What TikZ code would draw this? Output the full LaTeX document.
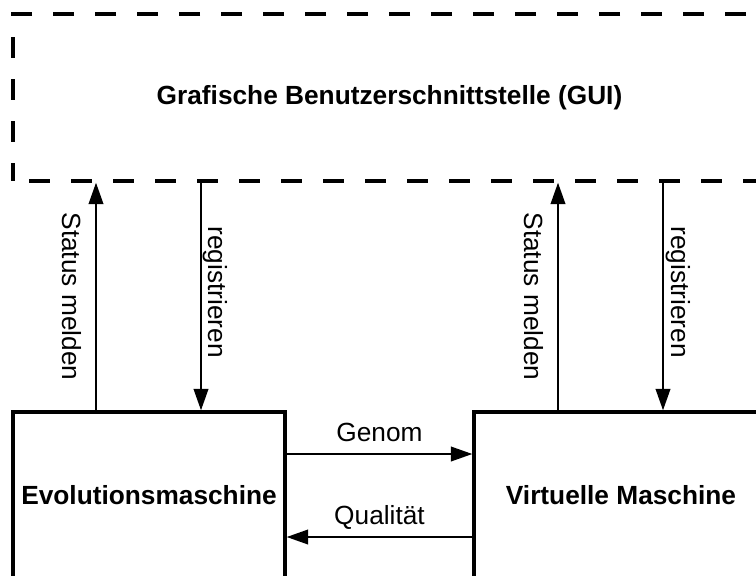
\documentclass[tikz,border=0pt]{standalone}
\usepackage{fontspec}
\setmainfont{Liberation Sans}
\usepackage{tikz}
\usetikzlibrary{arrows.meta,calc}

\begin{document}
\begin{tikzpicture}[x=0.75pt,y=-0.75pt,
    box/.style={draw,line width=2.6pt,inner sep=0pt,font=\bfseries\fontsize{19.7}{23.6}\selectfont},
    guibox/.style={box,dash pattern=on 15.75pt off 15.75pt,dash phase=19.5pt},
    pfeil/.style={line width=1.2pt,-{Triangle[length=16pt,width=11pt]}},
    lbl/.style={font=\fontsize{19.7}{23.6}\selectfont,text depth=0pt}]
    \useasboundingbox (0,0) rectangle (756,575);
    \clip (0,0) rectangle (756,575);
    \node[guibox,minimum width=564.75pt,minimum height=125.25pt] (gui) at (389.5,97.5) {Grafische Benutzerschnittstelle (GUI)};
    \node[box,minimum width=204pt,minimum height=124.5pt] (evo) at (149,495) {Evolutionsmaschine};
    \node[box,minimum width=220.5pt,minimum height=124.5pt] (vm) at (621,495) {Virtuelle Maschine};
    % Spalten der senkrechten Pfeile
    \coordinate (s1) at (96,300);
    \coordinate (r1) at (201,300);
    \coordinate (s2) at (558,300);
    \coordinate (r2) at (663,300);
    \coordinate (g) at (380,454);
    \coordinate (q) at (380,537);
    \draw[pfeil] (s1 |- evo.north) -- (s1 |- gui.south) node[lbl,midway,anchor=north,rotate=-90,inner sep=10pt] {Status melden};
    \draw[pfeil] (r1 |- gui.south) -- (r1 |- evo.north) node[lbl,pos=0.48,anchor=south,rotate=-90,inner sep=5pt] {registrieren};
    \draw[pfeil] (s2 |- vm.north) -- (s2 |- gui.south) node[lbl,midway,anchor=north,rotate=-90,inner sep=10pt] {Status melden};
    \draw[pfeil] (r2 |- gui.south) -- (r2 |- vm.north) node[lbl,pos=0.48,anchor=south,rotate=-90,inner sep=6pt] {registrieren};
    \draw[pfeil] (evo.east |- g) -- (vm.west |- g) node[lbl,midway,above,inner sep=9pt] {Genom};
    \draw[pfeil] (vm.west |- q) -- (evo.east |- q) node[lbl,midway,above,inner sep=9pt] {Qualität};
\end{tikzpicture}
\end{document}
